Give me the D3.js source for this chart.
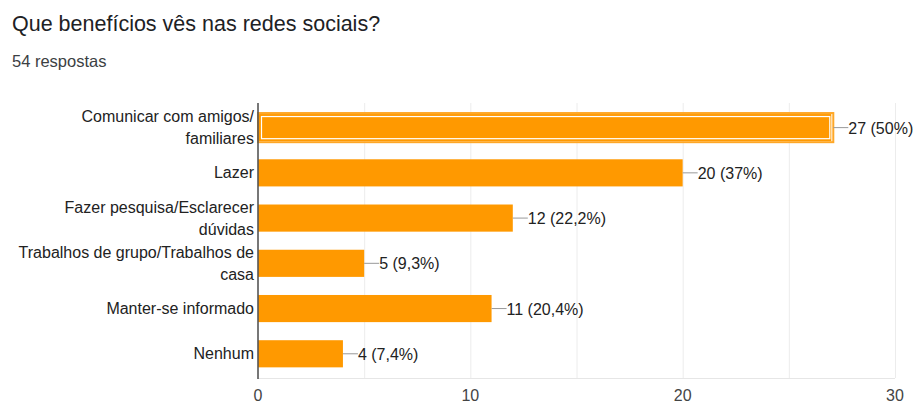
<!DOCTYPE html>
<html>
<head>
<meta charset="utf-8">
<script src="https://cdn.jsdelivr.net/npm/d3@7"></script>
<style>
  html, body { margin: 0; padding: 0; background: #fff; }
  svg { display: block; font-family: "Liberation Sans", Arial, sans-serif; }
</style>
</head>
<body>
<svg id="chart" width="915" height="401"></svg>
<script>
// Survey answers and counts
const categories = [
  ["Comunicar com amigos/", "familiares"],
  ["Lazer"],
  ["Fazer pesquisa/Esclarecer", "dúvidas"],
  ["Trabalhos de grupo/Trabalhos de", "casa"],
  ["Manter-se informado"],
  ["Nenhum"]
];
const counts = [27, 20, 12, 5, 11, 4];
const percentLabels = ["50%", "37%", "22,2%", "9,3%", "20,4%", "7,4%"];
const xTicks = [0, 10, 20, 30];
const gridTicks = [5, 10, 15, 20, 25, 30];
const title = "Que benefícios vês nas redes sociais?";
const subtitle = "54 respostas";

const svg = d3.select("#chart");
const plot = { left: 258, right: 895, top: 103, bottom: 378 };

const x = d3.scaleLinear().domain([0, 30]).range([plot.left, plot.right]);
const y = d3.scaleBand().domain(d3.range(categories.length))
  .range([105, 376.4]).paddingInner(0.4).paddingOuter(0.2);

// Heading
svg.append("text").attr("x", 12).attr("y", 31)
  .attr("font-size", 21.5).attr("fill", "#202124").text(title);
svg.append("text").attr("x", 12).attr("y", 67)
  .attr("font-size", 16.5).attr("fill", "#3c4043").text(subtitle);

// Vertical gridlines
svg.append("g").selectAll("line").data(gridTicks).join("line")
  .attr("x1", d => x(d) + 0.5).attr("x2", d => x(d) + 0.5)
  .attr("y1", plot.top).attr("y2", plot.bottom)
  .attr("stroke", "#ececec").attr("stroke-width", 1);
svg.append("line")
  .attr("x1", plot.left).attr("x2", plot.right)
  .attr("y1", plot.bottom + 0.5).attr("y2", plot.bottom + 0.5)
  .attr("stroke", "#e6e6e6");

// Bars
svg.append("g").selectAll("rect").data(counts).join("rect")
  .attr("x", x(0)).attr("y", (d, i) => y(i))
  .attr("width", d => x(d) - x(0)).attr("height", y.bandwidth())
  .attr("fill", "#ff9900");

// Focus ring on the first bar: orange border with a thin white inset line
const hb = { x: x(0), y: y(0), w: x(counts[0]) - x(0), h: y.bandwidth() };
svg.append("rect")
  .attr("x", hb.x).attr("y", hb.y - 1).attr("width", hb.w + 2).attr("height", hb.h + 2)
  .attr("fill", "none").attr("stroke", "#ffa726").attr("stroke-width", 2);
svg.append("rect")
  .attr("x", hb.x + 3.5).attr("y", hb.y + 2.5).attr("width", hb.w - 5).attr("height", hb.h - 5)
  .attr("fill", "none").attr("stroke", "#ffffff").attr("stroke-width", 1.2);

// Y axis line
svg.append("line")
  .attr("x1", x(0)).attr("x2", x(0))
  .attr("y1", plot.top).attr("y2", plot.bottom + 1)
  .attr("stroke", "#555").attr("stroke-width", 1.6);

// Category labels
const catG = svg.append("g").attr("font-size", 16).attr("fill", "#222").attr("text-anchor", "end");
categories.forEach((lines, i) => {
  const cy = y(i) + y.bandwidth() / 2;
  const lh = 22;
  const y0 = cy - (lines.length - 1) * lh / 2 + 5.5;
  lines.forEach((t, j) => {
    catG.append("text").attr("x", x(0) - 4).attr("y", y0 + j * lh).text(t);
  });
});

// Value labels with leader lines
const valG = svg.append("g");
counts.forEach((d, i) => {
  const cy = y(i) + y.bandwidth() / 2;
  const ex = x(d) + (i === 0 ? 2 : 0);
  valG.append("line").attr("x1", ex).attr("x2", ex + 15)
    .attr("y1", cy).attr("y2", cy).attr("stroke", "#999").attr("stroke-width", 1);
  valG.append("text").attr("x", ex + 15).attr("y", cy + 6)
    .attr("font-size", 16).attr("fill", "#222")
    .text(`${d} (${percentLabels[i]})`);
});

// X axis tick labels
svg.append("g").selectAll("text").data(xTicks).join("text")
  .attr("x", d => x(d)).attr("y", 401)
  .attr("text-anchor", "middle").attr("font-size", 16).attr("fill", "#444")
  .text(d => d);
</script>
</body>
</html>
